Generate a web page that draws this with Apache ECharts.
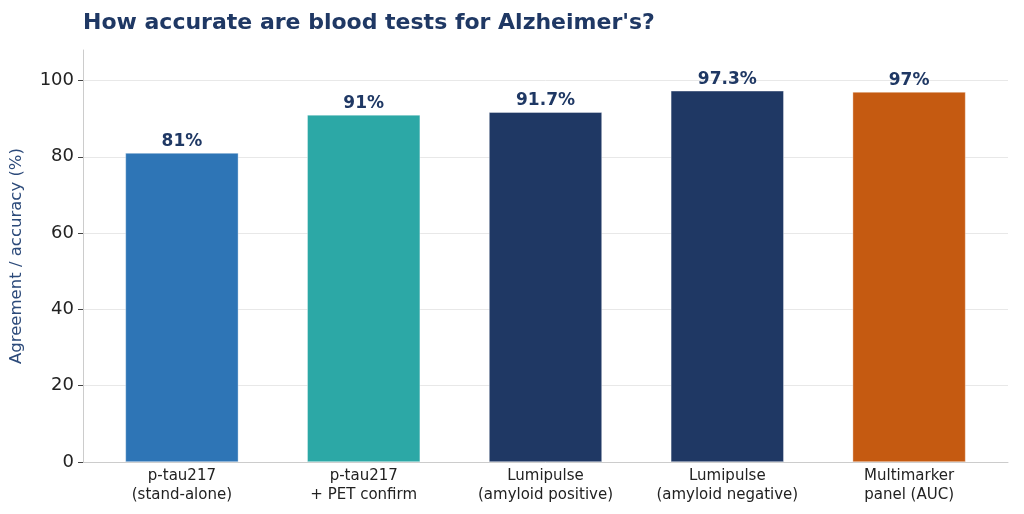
<!DOCTYPE html>
<html>
<head>
<meta charset="utf-8">
<script src="https://cdn.jsdelivr.net/npm/echarts@6/dist/echarts.min.js"></script>
<style>
  html, body { margin: 0; padding: 0; background: #fff; }
  #chart { width: 1024px; height: 514px; }
</style>
</head>
<body>
<div id="chart"></div>
<script>
const categories = ['p-tau217\n(stand-alone)', 'p-tau217\n+ PET confirm', 'Lumipulse\n(amyloid positive)', 'Lumipulse\n(amyloid negative)', 'Multimarker\npanel (AUC)'];
const values = [81, 91, 91.7, 97.3, 97];
const valueLabels = ['81%', '91%', '91.7%', '97.3%', '97%'];
const barColors = ['#2e75b6', '#2ca8a6', '#1f3864', '#1f3864', '#c55a11'];
const yTicks = [0, 20, 40, 60, 80, 100];

const font = 'DejaVu Sans';

let mychart = echarts.init(document.getElementById('chart'));
mychart.setOption({
  animation: false,
  backgroundColor: '#fff',
  title: {
    text: "How accurate are blood tests for Alzheimer's?",
    left: 78,
    top: 7,
    textStyle: { fontFamily: font, fontSize: 22, fontWeight: 'bold', color: '#1f3864' }
  },
  grid: { left: 82, right: 16, top: 50, bottom: 52 },
  xAxis: {
    type: 'value',
    min: -0.544,
    max: 4.544,
    splitLine: { show: false },
    axisLine: { show: true, onZero: false, lineStyle: { color: '#cccccc', width: 1 } },
    axisTick: { show: false },
    axisLabel: {
      customValues: [0, 1, 2, 3, 4],
      formatter: v => categories[Math.round(v)],
      fontFamily: font,
      fontSize: 15,
      lineHeight: 19,
      color: '#222',
      margin: 5
    }
  },
  yAxis: {
    type: 'value',
    min: 0,
    max: 108,
    name: 'Agreement / accuracy (%)',
    nameLocation: 'middle',
    nameGap: 58,
    nameTextStyle: { fontFamily: font, fontSize: 16.5, color: '#2c4a7a' },
    axisLine: { show: true, onZero: false, lineStyle: { color: '#cccccc', width: 1 } },
    axisTick: { show: true, customValues: yTicks, length: 5, lineStyle: { color: '#444' } },
    axisLabel: { customValues: yTicks, fontFamily: font, fontSize: 18, color: '#222', margin: 9 },
    splitLine: { show: false }
  },
  series: [{
    type: 'bar',
    barWidth: 113,
    data: values.map((v, i) => ({
      value: [i, v],
      itemStyle: { color: barColors[i], borderColor: 'rgba(255,255,255,0.6)', borderWidth: 0.6 }
    })),
    label: {
      show: true,
      position: 'top',
      distance: 3,
      formatter: p => valueLabels[p.dataIndex],
      fontFamily: font,
      fontSize: 17,
      fontWeight: 'bold',
      color: '#1f3864'
    },
    markLine: {
      silent: true,
      symbol: 'none',
      label: { show: false },
      lineStyle: { color: '#e8e8e8', width: 1, type: 'solid' },
      z: 0,
      data: yTicks.slice(1).map(t => ({ yAxis: t }))
    },
    z: 2
  }]
});
</script>
</body>
</html>
